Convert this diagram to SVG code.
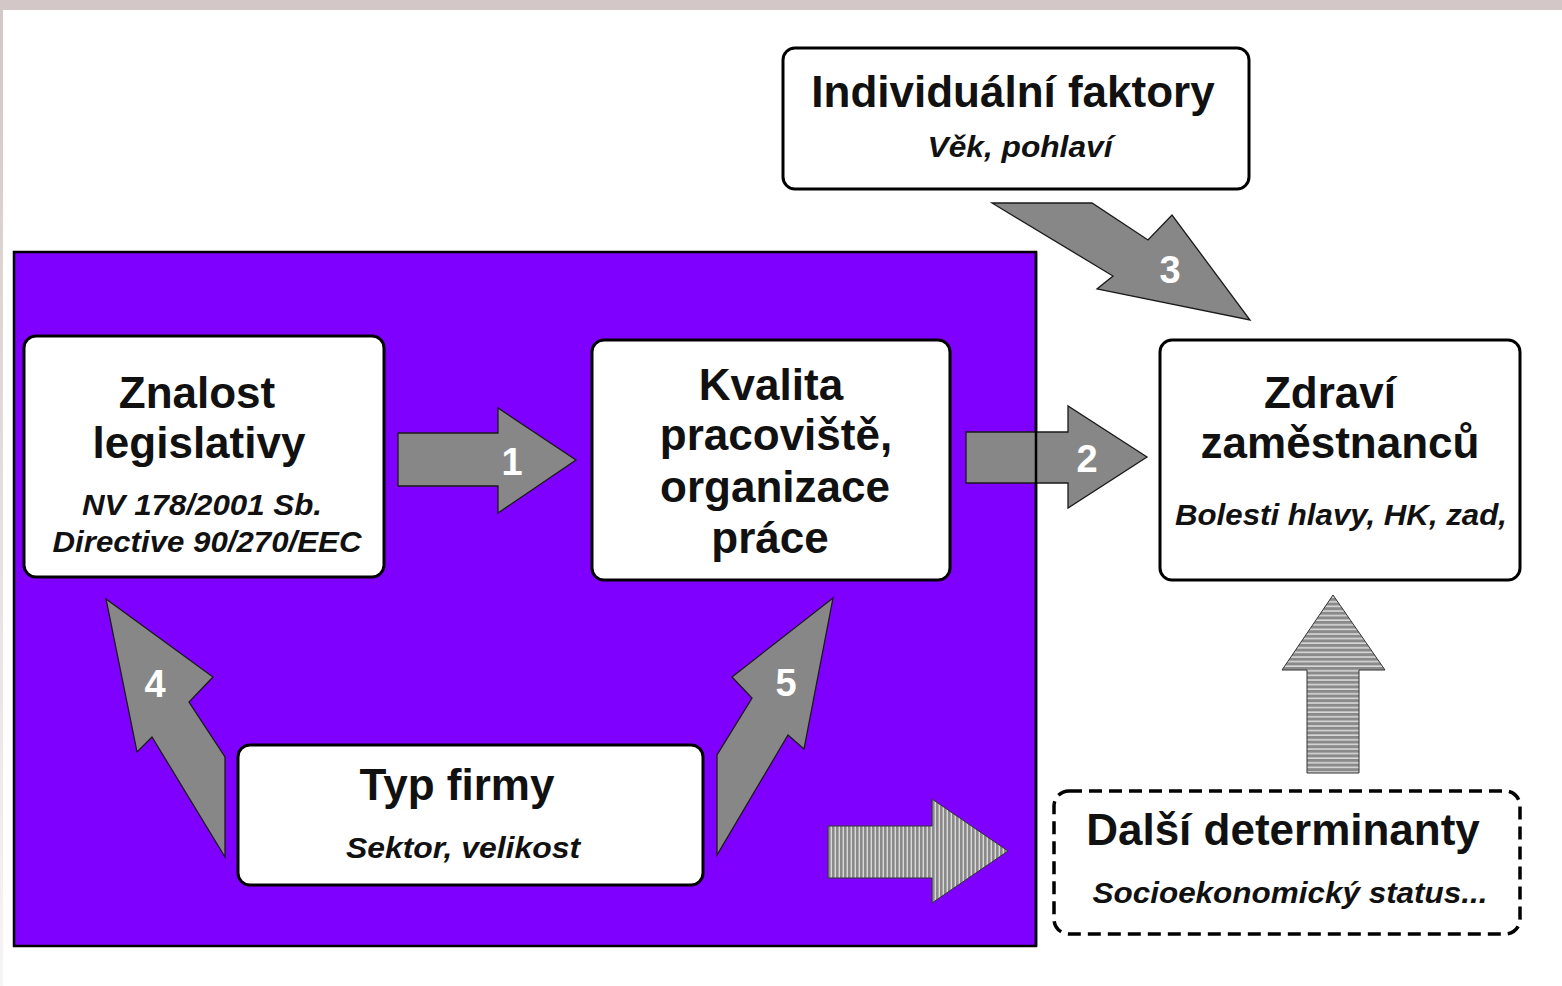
<svg xmlns="http://www.w3.org/2000/svg" width="1562" height="986" viewBox="0 0 1562 986">
<defs>
<linearGradient id="side" x1="0" y1="0" x2="0" y2="1"><stop offset="0" stop-color="#d3c7c7"/><stop offset="1" stop-color="#f6f4f4"/></linearGradient>
<pattern id="vstripe" patternUnits="userSpaceOnUse" width="4" height="4"><rect width="4" height="4" fill="#8a8a8a"/><rect x="2.6" width="1.4" height="4" fill="#d8d8d8"/></pattern>
<pattern id="hstripe" patternUnits="userSpaceOnUse" width="4" height="4.6"><rect width="4" height="4.6" fill="#8a8a8a"/><rect y="3" width="4" height="1.6" fill="#d8d8d8"/></pattern>
<style>
.box{fill:#fff;stroke:#000;stroke-width:3}
.dash{fill:#fff;stroke:#000;stroke-width:3.5;stroke-dasharray:13 7}
.arr{fill:#878787;stroke:#1a1a1a;stroke-width:1.3;stroke-linejoin:miter}
.t{font-family:"Liberation Sans",Arial,sans-serif;font-weight:bold;font-size:44px;fill:#111;text-anchor:middle}
.s{font-family:"Liberation Sans",Arial,sans-serif;font-weight:bold;font-style:italic;font-size:30px;fill:#111;text-anchor:middle}
.n{font-family:"Liberation Sans",Arial,sans-serif;font-weight:bold;font-size:38px;fill:#fff;text-anchor:middle}
</style>
</defs>
<rect x="0" y="0" width="1562" height="986" fill="#fff"/>
<rect x="0" y="0" width="1562" height="10" fill="#d3c7c7"/>
<rect x="0" y="10" width="3" height="976" fill="url(#side)"/>
<rect id="region" x="14" y="252" width="1022" height="694" fill="#8000ff" stroke="#000" stroke-width="2.5"/>

<g id="connectors">
<polygon class="arr" points="398,433 498,433 498,408 576,460 498,513 498,486 398,486"/>
<polygon class="arr" points="966,432 1068,432 1068,406 1147,457 1068,508 1068,483 966,483"/>
<polygon class="arr" points="992,203 1092,203 1148,240 1172,215 1250,320 1097,289 1113,276"/>
<polygon class="arr" points="106,599 213,677 189,702 225,757 225,857 152,737 137,752"/>
<polygon class="arr" points="833,598 804,749 788,735 717,855 717,755 752,698 732,677"/>
<polygon fill="url(#vstripe)" stroke="#333" stroke-width="1" points="828,826 932,826 932,799 1008,851 932,903 932,878 828,878"/>
<polygon fill="url(#hstripe)" stroke="#333" stroke-width="1" points="1333,595 1385,670 1359,670 1359,773 1307,773 1307,670 1282,670"/>
<text class="n" x="512" y="475">1</text>
<text class="n" x="1087" y="472">2</text>
<text class="n" x="1170" y="283">3</text>
<text class="n" x="155" y="697">4</text>
<text class="n" x="786" y="696">5</text>
</g>
<line x1="1036" y1="252" x2="1036" y2="946" stroke="#000" stroke-width="2.5"/>

<g id="znalost">
<rect class="box" x="24" y="336" width="360" height="241" rx="12"/>
<text class="t" x="197" y="408">Znalost</text>
<text class="t" x="199" y="458">legislativy</text>
<text class="s" x="202" y="515" textLength="240" lengthAdjust="spacingAndGlyphs">NV 178/2001 Sb.</text>
<text class="s" x="207" y="552" textLength="309" lengthAdjust="spacingAndGlyphs">Directive 90/270/EEC</text>
</g>

<g id="kvalita">
<rect class="box" x="592" y="340" width="358" height="240" rx="12"/>
<text class="t" x="771" y="400">Kvalita</text>
<text class="t" x="776" y="450">pracoviště,</text>
<text class="t" x="775" y="502">organizace</text>
<text class="t" x="770" y="553">práce</text>
</g>

<g id="zdravi">
<rect class="box" x="1160" y="340" width="360" height="240" rx="12"/>
<text class="t" x="1330" y="408">Zdraví</text>
<text class="t" x="1340" y="458">zaměstnanců</text>
<text class="s" x="1341" y="525" textLength="332" lengthAdjust="spacingAndGlyphs">Bolesti hlavy, HK, zad,</text>
</g>

<g id="individualni">
<rect class="box" x="783" y="48" width="466" height="141" rx="12"/>
<text class="t" x="1013" y="107">Individuální faktory</text>
<text class="s" x="1020" y="157" textLength="185" lengthAdjust="spacingAndGlyphs">Věk, pohlaví</text>
</g>

<g id="typfirmy">
<rect class="box" x="238" y="745" width="465" height="140" rx="12"/>
<text class="t" x="457" y="800">Typ firmy</text>
<text class="s" x="463" y="858" textLength="234" lengthAdjust="spacingAndGlyphs">Sektor, velikost</text>
</g>

<g id="dalsi">
<rect class="dash" x="1054" y="791" width="466" height="143" rx="15"/>
<text class="t" x="1283" y="845">Další determinanty</text>
<text class="s" x="1290" y="903" textLength="395" lengthAdjust="spacingAndGlyphs">Socioekonomický status...</text>
</g>
</svg>
